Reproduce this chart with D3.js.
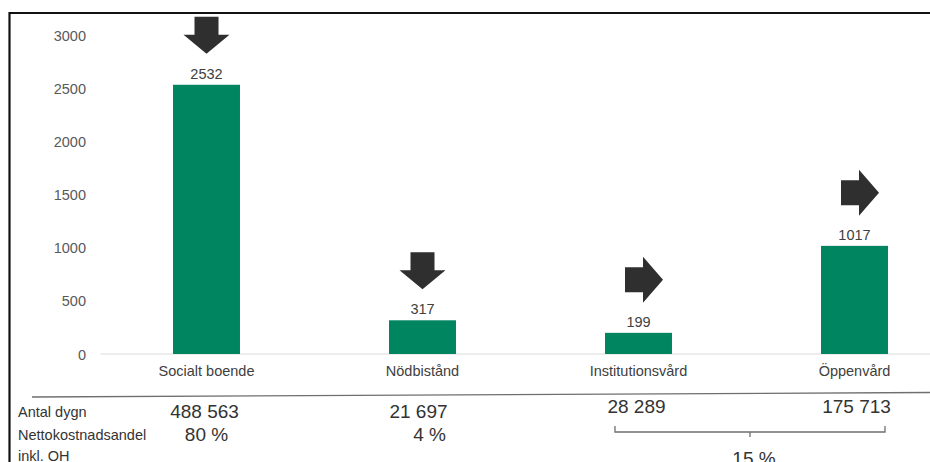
<!DOCTYPE html>
<html>
<head>
<meta charset="utf-8">
<script src="https://cdn.jsdelivr.net/npm/d3@7"></script>
<style>
  html, body { margin: 0; padding: 0; background: #fff; }
  svg { display: block; font-family: "Liberation Sans", Arial, sans-serif; }
</style>
</head>
<body>
<svg id="chart" width="930" height="462"></svg>
<script>
// Kostnad per kategori (tkr) med trendpilar
const categories = ["Socialt boende", "Nödbistånd", "Institutionsvård", "Öppenvård"];
const costs = [2532, 317, 199, 1017];
const trends = ["down", "down", "right", "right"];
const yTicks = [0, 500, 1000, 1500, 2000, 2500, 3000];

// Tabell under diagrammet
const nights = [488563, 21697, 28289, 175713];
const costShareSingle = [80, 4];          // Socialt boende, Nödbistånd
const costShareGrouped = 15;              // Institutionsvård + Öppenvård
const rowLabels = ["Antal dygn", "Nettokostnadsandel", "inkl. OH"];

const svg = d3.select("#chart");
const W = 930, H = 462;

const x = d3.scaleBand().domain(categories).range([98.5, 962.5]).paddingInner(0.69).paddingOuter(0.345);
const y = d3.scaleLinear().domain([0, 3000]).range([354, 35]);

const barColor = "#008561";
const arrowColor = "#2f2f2f";

// Ram
svg.append("line").attr("x1", 9.5).attr("x2", W).attr("y1", 13).attr("y2", 13)
  .attr("stroke", "#111").attr("stroke-width", 2.2);
svg.append("line").attr("x1", 9.5).attr("x2", 9.5).attr("y1", 12).attr("y2", H)
  .attr("stroke", "#111").attr("stroke-width", 2.2);

// Y-axel (bara etiketter)
const yAxis = d3.axisLeft(y).tickValues(yTicks).tickFormat(d3.format("d")).tickSize(0).tickPadding(0);
const gy = svg.append("g").attr("transform", "translate(86,0)").call(yAxis);
gy.select(".domain").remove();
gy.selectAll("text").attr("fill", "#595959").attr("font-size", "14.5px")
  .attr("font-family", "Liberation Sans, Arial, sans-serif").attr("dy", "0.35em");

// X-axel
const xAxis = d3.axisBottom(x).tickSize(0).tickPadding(12);
const gx = svg.append("g").attr("transform", `translate(0,${y(0)})`).call(xAxis);
gx.select(".domain").attr("stroke", "#d9d9d9").attr("stroke-width", 1.2)
  .attr("d", `M100.5,0H${W}`);
gx.selectAll("text").attr("fill", "#404040").attr("font-size", "14.5px")
  .attr("font-family", "Liberation Sans, Arial, sans-serif");

// Staplar
svg.append("g").selectAll("rect").data(categories).join("rect")
  .attr("x", d => x(d))
  .attr("y", (d, i) => y(costs[i]))
  .attr("width", x.bandwidth())
  .attr("height", (d, i) => y(0) - y(costs[i]))
  .attr("fill", barColor);

// Värdeetiketter
svg.append("g").selectAll("text").data(categories).join("text")
  .attr("x", d => x(d) + x.bandwidth() / 2)
  .attr("y", (d, i) => y(costs[i]) - 6)
  .attr("text-anchor", "middle")
  .attr("font-size", "14.5px")
  .attr("fill", "#404040")
  .text((d, i) => costs[i]);

// Trendpilar
const shaftW = 24, headW = 46, shaftL = 18, headL = 19;
function downArrow(cx, tipY) {
  const top = tipY - shaftL - headL, base = tipY - headL;
  return `M${cx - shaftW / 2},${top}H${cx + shaftW / 2}V${base}H${cx + headW / 2}L${cx},${tipY}L${cx - headW / 2},${base}H${cx - shaftW / 2}Z`;
}
function rightArrow(left, cy) {
  const base = left + shaftL, tip = base + headL + 1;
  return `M${left},${cy - shaftW / 2 - 0.5}H${base}V${cy - headW / 2}L${tip},${cy}L${base},${cy + headW / 2}V${cy + shaftW / 2 + 0.5}H${left}Z`;
}
svg.append("g").selectAll("path").data(categories).join("path")
  .attr("fill", arrowColor)
  .attr("d", (d, i) => {
    const cx = x(d) + x.bandwidth() / 2;
    const topOfBar = y(costs[i]);
    return trends[i] === "down"
      ? downArrow(cx, topOfBar - 31)
      : rightArrow(cx - 13.5, topOfBar - 30 - headW / 2);
  });

// Avskiljande linje
svg.append("line").attr("x1", 32).attr("y1", 397).attr("x2", W).attr("y2", 392.5)
  .attr("stroke", "#6f6f6f").attr("stroke-width", 1.4);

// Radrubriker
const rowY = [417, 440, 461];
svg.append("g").selectAll("text").data(rowLabels).join("text")
  .attr("x", 18).attr("y", (d, i) => rowY[i])
  .attr("font-size", "14.5px").attr("fill", "#333")
  .text(d => d);

const fmt = d3.formatLocale({ thousands: " ", grouping: [3], decimal: ",", currency: ["", " kr"] }).format(",d");
const nightsY = [418, 418, 413, 413];
const nightsDx = [-2, -4, -2, 2];
svg.append("g").selectAll("text").data(nights).join("text")
  .attr("x", (d, i) => x(categories[i]) + x.bandwidth() / 2 + nightsDx[i])
  .attr("y", (d, i) => nightsY[i])
  .attr("text-anchor", "middle")
  .attr("font-size", "19px").attr("fill", "#333")
  .text(d => fmt(d));

const shareDx = [0, 7];
svg.append("g").selectAll("text").data(costShareSingle).join("text")
  .attr("x", (d, i) => x(categories[i]) + x.bandwidth() / 2 + shareDx[i])
  .attr("y", 441)
  .attr("text-anchor", "middle")
  .attr("font-size", "19px").attr("fill", "#333")
  .text(d => `${d} %`);

// Klammer för gruppen Institutionsvård + Öppenvård
const bx1 = x(categories[2]) + x.bandwidth() / 2 - 23.5;
const bx2 = x(categories[3]) + x.bandwidth() / 2 + 30.5;
const bmid = (bx1 + bx2) / 2;
svg.append("path")
  .attr("d", `M${bx1},426V432H${bx2}V426M${bmid},432V437`)
  .attr("fill", "none").attr("stroke", "#6f6f6f").attr("stroke-width", 1.3);
svg.append("text")
  .attr("x", bmid + 4).attr("y", 465)
  .attr("text-anchor", "middle")
  .attr("font-size", "19px").attr("fill", "#333")
  .text(`${costShareGrouped} %`);
</script>
</body>
</html>
